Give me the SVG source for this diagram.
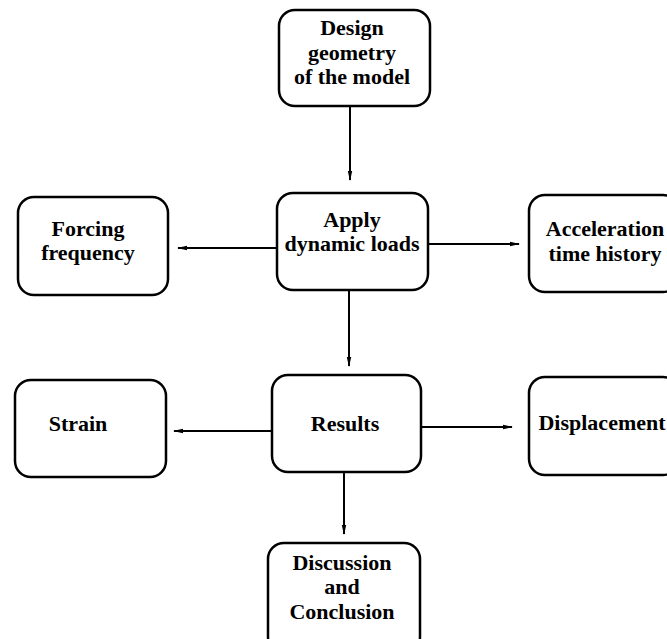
<svg xmlns="http://www.w3.org/2000/svg" width="667" height="639" viewBox="0 0 667 639">
<style>
.box{fill:#fff;stroke:#000;stroke-width:2.5}
.t{font-family:'Liberation Serif','DejaVu Serif',serif;font-weight:bold;font-size:22px;fill:#000;text-anchor:middle}
.c{stroke:#000;stroke-width:2;fill:none;marker-end:url(#ah)}
</style>
<defs>
<marker id="ah" markerWidth="10" markerHeight="6" refX="9" refY="3" orient="auto" markerUnits="userSpaceOnUse">
<path d="M0,0.8 L10,3 L0,5.2 Z" fill="#000"/>
</marker>
</defs>
<rect width="667" height="639" fill="#fff"/>
<g id="connectors">
<line class="c" x1="350" y1="107" x2="350" y2="180"/>
<line class="c" x1="277" y1="248" x2="178" y2="248"/>
<line class="c" x1="428" y1="244" x2="519" y2="244"/>
<line class="c" x1="349" y1="290" x2="349" y2="366"/>
<line class="c" x1="272" y1="431" x2="174" y2="431"/>
<line class="c" x1="421" y1="427" x2="512" y2="427"/>
<line class="c" x1="344" y1="472" x2="344" y2="534"/>
</g>
<g id="design">
<rect class="box" x="279" y="10" width="151" height="96" rx="16"/>
<text class="t" x="352" y="35" font-family="Liberation Serif">Design</text>
<text class="t" x="352" y="60">geometry</text>
<text class="t" x="352" y="84">of the model</text>
</g>
<g id="apply">
<rect class="box" x="277" y="193" width="151" height="97" rx="16"/>
<text class="t" x="352" y="227">Apply</text>
<text class="t" x="352" y="251">dynamic loads</text>
</g>
<g id="forcing">
<rect class="box" x="18" y="197" width="150" height="98" rx="16"/>
<text class="t" x="88" y="236">Forcing</text>
<text class="t" x="88" y="260">frequency</text>
</g>
<g id="acceleration">
<rect class="box" x="529" y="195" width="150" height="97" rx="16"/>
<text class="t" x="605" y="236">Acceleration</text>
<text class="t" x="605" y="261">time history</text>
</g>
<g id="results">
<rect class="box" x="272" y="375" width="149" height="97" rx="16"/>
<text class="t" x="345" y="431">Results</text>
</g>
<g id="strain">
<rect class="box" x="15" y="380" width="151" height="97" rx="16"/>
<text class="t" x="78" y="431">Strain</text>
</g>
<g id="displacement">
<rect class="box" x="529" y="377" width="150" height="98" rx="16"/>
<text class="t" x="602" y="430">Displacement</text>
</g>
<g id="discussion">
<rect class="box" x="268" y="543" width="152" height="110" rx="16"/>
<text class="t" x="342" y="570">Discussion</text>
<text class="t" x="342" y="594">and</text>
<text class="t" x="342" y="619">Conclusion</text>
</g>
</svg>
